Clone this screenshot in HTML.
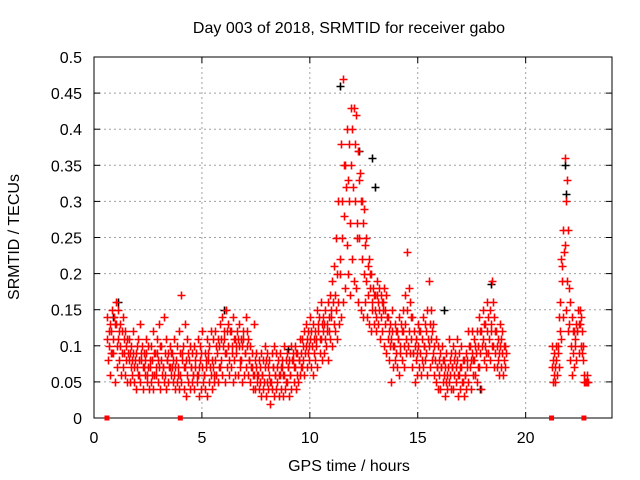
<!DOCTYPE html>
<html><head><meta charset="utf-8"><style>
html,body{margin:0;padding:0;background:#fff;}
svg{display:block;font-family:"Liberation Sans",sans-serif;}
</style></head><body>
<svg id="chart" width="640" height="480" viewBox="0 0 640 480">
<rect width="640" height="480" fill="#fff"/>
<g id="grid"></g>
<g id="axes"></g>
<g id="marks"></g>
<text x="349" y="33" font-size="16" text-anchor="middle">Day 003 of 2018, SRMTID for receiver gabo</text>
<text x="349" y="471" font-size="16" text-anchor="middle">GPS time / hours</text>
<text x="0" y="0" font-size="16" text-anchor="middle" transform="translate(19,237) rotate(-90)">SRMTID / TECUs</text>
</svg>
<script>
const xTicks=[0,5,10,15,20];
const yTicks=[0,0.05,0.1,0.15,0.2,0.25,0.3,0.35,0.4,0.45,0.5];
const yTickLabels=["0","0.05","0.1","0.15","0.2","0.25","0.3","0.35","0.4","0.45","0.5"];
const segAStart=0.6;
const segAs1=[.11,.10,.12,.09,.13,.11,.10,.12,.09,.08, .08,.07,.09,.08,.07,.06,.08,.07,.09,.07, .07,.08,.06,.09,.07,.08,.07,.06,.08,.07, .07,.06,.08,.07,.06,.09,.07,.06,.08,.07, .06,.07,.06,.08,.07,.06,.07,.08,.06,.07, .08,.09,.10,.08,.11,.09,.10,.12,.09,.08, .09,.10,.08,.11,.09,.10,.08,.07,.06,.07, .06,.05,.06,.07,.05,.06,.05,.07,.06,.05, .06,.07,.06,.05,.07,.06,.08,.07,.06,.08, .09,.08,.10,.09,.11,.10,.09,.11,.12,.11, .12,.11,.13,.12,.14,.13,.15,.16,.20,.25, .28,.24,.30,.35,.32,.30,.27,.25,.22,.20, .19,.17,.18,.16,.15,.17,.15,.14,.16,.15, .11,.10,.12,.10,.09,.11,.10,.12,.13,.15, .12,.11,.09,.08,.10,.09,.11,.10,.09,.10, .11,.09,.08,.07,.06,.07,.06,.05,.07,.06, .07,.06,.08,.06,.07,.05,.06,.08,.07,.09, .08,.09,.10,.09,.11,.10,.12,.11,.13,.10, .09,.08,.10,.09,.08];
const segAs2=[.14,.13,.15,.14,.16,.15,.13,.14,.12,.11, .11,.10,.12,.09,.11,.13,.10,.09,.11,.10, .10,.12,.09,.11,.13,.10,.14,.11,.09,.10, .09,.11,.10,.12,.17,.10,.13,.11,.10,.09, .10,.09,.11,.10,.12,.09,.11,.10,.12,.11, .12,.11,.13,.14,.12,.15,.13,.12,.14,.11, .12,.13,.11,.12,.14,.11,.10,.09,.13,.09, .08,.09,.08,.10,.09,.08,.09,.10,.09,.08, .09,.08,.10,.09,.08,.10,.09,.10,.09,.11, .11,.12,.13,.12,.14,.13,.12,.15,.14,.16, .14,.15,.16,.17,.19,.21,.25,.30,.38,.47, .35,.40,.38,.43,.43,.42,.37,.34,.30,.29, .25,.22,.20,.18,.17,.19,.18,.16,.18,.17, .14,.13,.15,.13,.12,.14,.13,.15,.17,.23, .16,.14,.12,.11,.13,.12,.14,.13,.15,.19, .15,.13,.11,.10,.09,.10,.08,.09,.11,.09, .10,.09,.11,.09,.10,.08,.09,.12,.10,.12, .11,.12,.14,.12,.15,.13,.16,.15,.19,.14, .12,.11,.13,.12,.10];
const segAs3=[.08,.06,.09,.05,.07,.08,.06,.07,.06,.05, .05,.06,.05,.04,.06,.05,.04,.06,.05,.04, .05,.04,.06,.05,.04,.06,.05,.04,.05,.06, .05,.04,.05,.04,.05,.04,.03,.05,.04,.05, .04,.05,.03,.04,.05,.04,.03,.05,.04,.05, .06,.05,.07,.06,.05,.07,.06,.07,.05,.06, .06,.07,.05,.06,.07,.06,.05,.04,.04,.05, .04,.03,.04,.03,.04,.02,.04,.03,.04,.03, .04,.03,.04,.05,.03,.04,.05,.04,.05,.06, .07,.06,.07,.08,.07,.06,.08,.07,.09,.08, .09,.10,.08,.11,.10,.12,.11,.13,.14,.16, .18,.20,.17,.22,.19,.18,.16,.15,.14,.16, .14,.13,.12,.13,.12,.13,.11,.12,.10,.09, .08,.05,.07,.08,.07,.06,.08,.07,.09,.10, .09,.07,.05,.06,.07,.06,.07,.08,.06,.07, .08,.06,.05,.04,.04,.05,.03,.04,.05,.04, .04,.05,.03,.04,.05,.03,.04,.05,.04,.06, .06,.05,.07,.04,.08,.07,.09,.08,.10,.07, .07,.06,.07,.06,.07];
const segAs4=[.12,.09,.11,.13,.10,.12,.09,.11,.10,.09, .09,.08,.07,.10,.08,.09,.07,.08,.06,.08, .06,.09,.07,.08,.10,.07,.09,.08,.07,.09, .08,.07,.06,.09,.08,.07,.08,.09,.07,.06, .08,.06,.07,.09,.06,.08,.09,.07,.08,.06, .10,.07,.11,.10,.09,.12,.08,.10,.11,.10, .11,.08,.10,.09,.12,.08,.07,.06,.08,.06, .07,.06,.05,.08,.07,.05,.07,.06,.07,.06, .07,.06,.08,.07,.06,.08,.07,.09,.08,.07, .10,.09,.11,.10,.12,.11,.10,.13,.11,.13, .13,.12,.14,.15,.16,.17,.20,.22,.30,.35, .32,.33,.27,.40,.38,.25,.33,.30,.27,.24, .21,.20,.15,.17,.14,.16,.17,.15,.13,.14, .12,.11,.10,.12,.11,.09,.12,.10,.11,.18, .14,.09,.10,.09,.12,.08,.10,.12,.11,.13, .12,.10,.07,.08,.07,.08,.07,.06,.08,.07, .08,.07,.06,.07,.08,.06,.07,.10,.08,.08, .10,.07,.12,.10,.13,.09,.14,.12,.16,.12, .10,.09,.11,.10,.09];
const segBStart=21.2;
const segBs1=[.07,.06,.08,.10,.16,.21,.24,.19,.13,.10,.09,.11,.12,.13,.09,.05,.05];
const segBs2=[.10,.09,.10,.14,.22,.26,.36,.33,.18,.14,.12,.13,.15,.15,.12,.06,.06];
const segBs3=[.05,.05,.06,.07,.11,.14,.15,.12,.08,.06,.07,.08,.09,.10,.08,.05,.05];
const segBs4=[.08,.07,.09,.12,.19,.23,.30,.26,.16,.12,.10,.12,.13,.14,.10,.05,.05];
const blackT=[0.9,1.1,6.0,9.0,11.4,12.3,13.0,16.2,18.4,21.8,21.85,17.9,12.9];
const blackV=[0.14,0.16,0.15,0.095,0.46,0.37,0.32,0.15,0.185,0.35,0.31,0.04,0.36];
const squareT=[0.6,4.0,21.2,22.7];

const NS="http://www.w3.org/2000/svg";
const X0=94,X1=612,Y0=418,Y1=57;
const xs=t=>X0+(X1-X0)*t/24;
const ys=v=>Y0-(Y0-Y1)*v/0.5;
function mk(tag,attrs,parent){const e=document.createElementNS(NS,tag);for(const k in attrs)e.setAttribute(k,attrs[k]);parent.appendChild(e);return e;}
const grid=document.getElementById('grid'),axes=document.getElementById('axes'),marks=document.getElementById('marks');
xTicks.forEach(t=>{
  const x=xs(t);
  if(t>0){const g=mk('line',{x1:x,x2:x,y1:Y1,y2:Y0,stroke:'#a0a0a0','stroke-dasharray':'2,3'},grid);
  
  }
  mk('line',{x1:x,x2:x,y1:Y0,y2:Y0-6,stroke:'#000'},axes);
  mk('line',{x1:x,x2:x,y1:Y1,y2:Y1+6,stroke:'#000'},axes);
  const l=mk('text',{x:x,y:Y0+25,'font-size':16,'text-anchor':'middle'},axes);
  l.textContent=String(t);
  
  
});
yTicks.forEach((v,i)=>{
  const y=ys(v);
  if(i>0&&i<yTicks.length-1){const g=mk('line',{x1:X0,x2:X1,y1:y,y2:y,stroke:'#a0a0a0','stroke-dasharray':'2,3'},grid);
  
  }
  mk('line',{x1:X0,x2:X0+6,y1:y,y2:y,stroke:'#000'},axes);
  mk('line',{x1:X1,x2:X1-6,y1:y,y2:y,stroke:'#000'},axes);
  const l=mk('text',{x:X0-12,y:y+6,'font-size':16,'text-anchor':'end'},axes);
  l.textContent=yTickLabels[i];
  
  
});
const frame=mk('rect',{x:X0,y:Y1,width:X1-X0,height:Y0-Y1,fill:'none',stroke:'#000'},axes);


function plus(t,v,color){
  const x=Math.round(xs(t))+0.5,y=Math.round(ys(v))+0.5;
  const p=mk('path',{d:`M${x-4},${y}H${x+4}M${x},${y-4}V${y+4}`,stroke:color,'stroke-width':1.6,fill:'none'},marks);
  
  
}
blackT.forEach((t,i)=>plus(t,blackV[i],'#000'));
function seg(start,a,b,c,d){
  a.forEach((v,i)=>{const t=start+0.1*i;plus(t,v,'#f00');plus(t+0.025,b[i],'#f00');plus(t+0.05,c[i],'#f00');plus(t+0.075,d[i],'#f00');});
}
seg(segAStart,segAs1,segAs2,segAs3,segAs4);
seg(segBStart,segBs1,segBs2,segBs3,segBs4);
squareT.forEach(t=>{
  const s=mk('rect',{x:xs(t)-2.5,y:Y0-2.5,width:5,height:5,fill:'#f00'},marks);
  
  
});
</script>
</body></html>
